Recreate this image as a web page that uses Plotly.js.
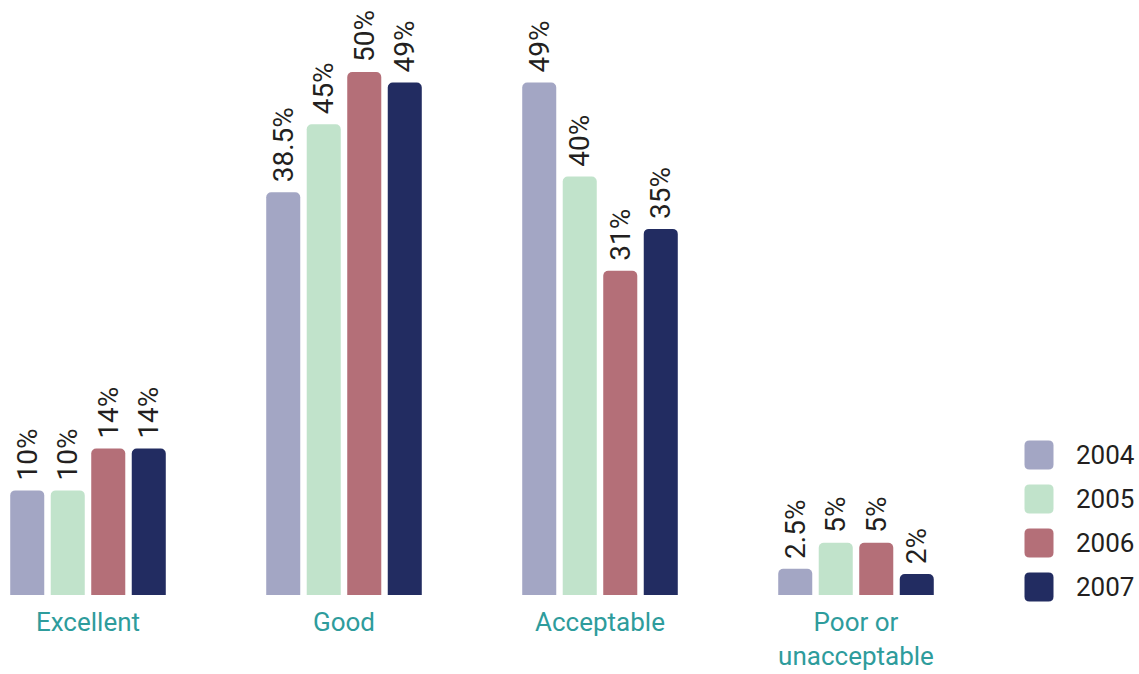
<!DOCTYPE html>
<html>
<head>
<meta charset="utf-8">
<script src="https://cdn.plot.ly/plotly-3.0.1.min.js"></script>
<style>html,body{margin:0;padding:0;background:#fff;}#chart{width:1139px;height:674px;}</style>
</head>
<body>
<div id="chart"></div>
<script>
// ---- data ----
const categories = ["Excellent", "Good", "Acceptable", "Poor or<br>unacceptable"];
const years = ["2004", "2005", "2006", "2007"];
const values2004 = [10, 38.5, 49, 2.5];
const values2005 = [10, 45, 40, 5];
const values2006 = [14, 50, 31, 5];
const values2007 = [14, 49, 35, 2];
const seriesValues = [values2004, values2005, values2006, values2007];
const colors = ["#a3a6c4", "#c1e3cb", "#b46f78", "#222c61"];

const W = 1139, H = 674;
const plotBottom = 595; // pixel of baseline
const fontFam = "Roboto, 'Noto Sans', sans-serif";
const xIdx = categories.map((_, i) => i);

const traces = years.map((yr, i) => ({
  type: "bar",
  name: yr,
  x: xIdx,
  y: seriesValues[i],
  marker: { color: colors[i], cornerradius: 5 },
  texttemplate: "\u00a0%{y}%",
  textposition: "outside",
  textangle: -90,
  constraintext: "none",
  cliponaxis: false,
  textfont: { family: fontFam, size: 28, color: "#231f20", weight: 400 },
  hoverinfo: "skip",
  showlegend: false
}));

// legend built from years/colors
const shapes = [], annotations = [];
const legX = 1039, legTextX = 1074, legTop = 455, legStep = 44, sq = 29, r = 5;
const h = sq / 2;
const rr = `M ${-h + r},${-h} L ${h - r},${-h} Q ${h},${-h} ${h},${-h + r} L ${h},${h - r} Q ${h},${h} ${h - r},${h} L ${-h + r},${h} Q ${-h},${h} ${-h},${h - r} L ${-h},${-h + r} Q ${-h},${-h} ${-h + r},${-h} Z`;
years.forEach((yr, i) => {
  const yc = legTop + i * legStep;
  const py = (plotBottom - yc) / plotBottom;
  shapes.push({
    type: "path", xref: "paper", yref: "paper",
    xsizemode: "pixel", ysizemode: "pixel",
    xanchor: legX / W, yanchor: py,
    path: rr, fillcolor: colors[i], line: { width: 0 }, layer: "above"
  });
  annotations.push({
    xref: "paper", yref: "paper", x: legTextX / W, y: py,
    xanchor: "left", yanchor: "middle", showarrow: false,
    text: yr, font: { family: fontFam, size: 26, color: "#231f20", weight: 400 }
  });
});

const pxPerCat = 256, firstCenter = 88, pxPerUnit = 523 / 50;
const layout = {
  width: W, height: H,
  margin: { l: 0, r: 0, t: 0, b: H - plotBottom, pad: 0 },
  paper_bgcolor: "#fff", plot_bgcolor: "#fff",
  barmode: "group", bargap: 0.367, bargroupgap: 0.16,
  showlegend: false,
  xaxis: {
    range: [-firstCenter / pxPerCat, (W - firstCenter) / pxPerCat],
    tickvals: xIdx, ticktext: categories,
    showgrid: false, zeroline: false, showline: false, ticks: "",
    ticklabelstandoff: 9,
    tickfont: { family: fontFam, size: 26, color: "#2e9c9c", weight: 400 },
    fixedrange: true
  },
  yaxis: {
    range: [0, plotBottom / pxPerUnit],
    visible: false, showgrid: false, zeroline: false, fixedrange: true
  },
  shapes: shapes,
  annotations: annotations
};

Plotly.newPlot("chart", traces, layout, { displayModeBar: false, staticPlot: true });
</script>
</body>
</html>
